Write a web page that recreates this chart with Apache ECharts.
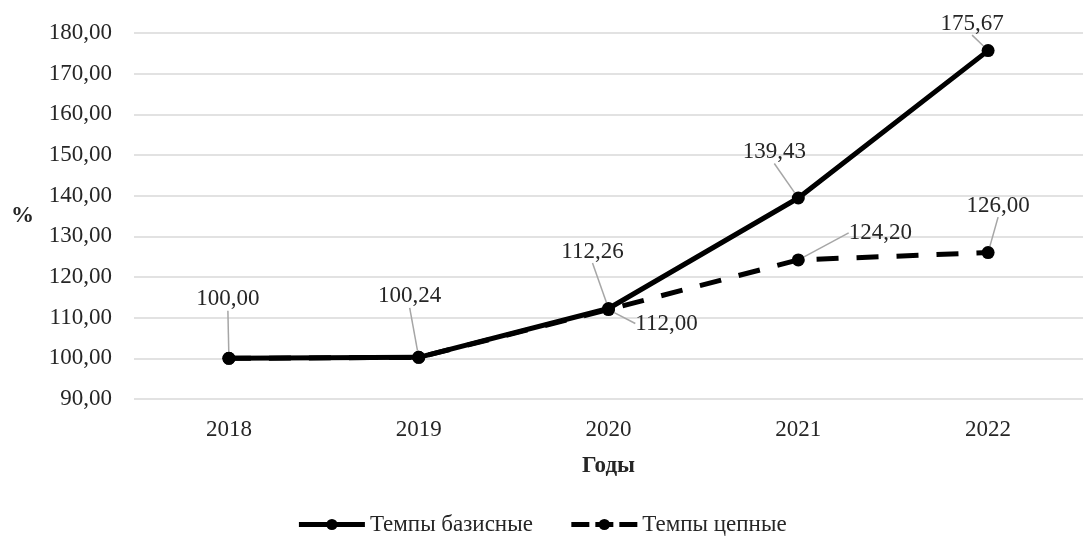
<!DOCTYPE html>
<html><head><meta charset="utf-8">
<script src="https://cdn.jsdelivr.net/npm/echarts@6/dist/echarts.min.js"></script>
<style>html,body{margin:0;padding:0;background:#fff}#c{width:1083px;height:536px}</style>
</head><body><div id="c"></div>
<script>
const years = ['2018','2019','2020','2021','2022'];
const baseRates = [100.00, 100.24, 112.26, 139.43, 175.67];
const chainRates = [100.00, 100.24, 112.00, 124.20, 126.00];
const seriesNames = ['Темпы базисные', 'Темпы цепные'];
const yTicks = {min: 90, max: 180, step: 10};

// label offsets (style only): [dx, dy] from the point
const labelOffsets = [
  [[-1,-59],[-9,-61],[-16,-57],[-24,-46],[-16,-27]],
  [[0,0],[0,0],[58,14],[82,-27],[10,-47]]
];
const FONT = 'Liberation Serif';
const FS = 23;
const fmt = v => v.toFixed(2).replace('.', ',');

const chart = echarts.init(document.getElementById('c'), null, {renderer:'canvas'});
const lineLabel = {show:true, fontFamily:FONT, fontSize:FS, color:'#262626', formatter: p => fmt(p.value)};
const guide = {show:true, lineStyle:{color:'#a6a6a6', width:1.5}};
function layoutFor(si){
  return function(params){
    const r = params.rect;
    const cx = r.x + r.width/2, cy = r.y + r.height/2;
    const o = labelOffsets[si][params.dataIndex];
    return {x: cx + o[0], y: cy + o[1], align:'center', verticalAlign:'middle'};
  };
}
chart.setOption({
  animation:false,
  textStyle:{fontFamily:FONT},
  grid:{left:134, right:0, top:33, bottom:137},
  legend:{
    top:508, left:'center', itemWidth:66, itemHeight:14, itemGap:36,
    textStyle:{fontFamily:FONT, fontSize:FS, color:'#262626'},
    data:[
      {name:seriesNames[0], lineStyle:{width:5}},
      {name:seriesNames[1], lineStyle:{type:[18,6], width:5}}
    ]
  },
  xAxis:{
    type:'category', data:years,
    axisLine:{show:false}, axisTick:{show:false},
    axisLabel:{fontFamily:FONT, fontSize:FS, color:'#262626', margin:19},
    name:'Годы', nameLocation:'middle', nameGap:56,
    nameTextStyle:{fontFamily:FONT, fontSize:FS, fontWeight:'bold', color:'#262626'}
  },
  yAxis:{
    type:'value', min:yTicks.min, max:yTicks.max, interval:yTicks.step,
    axisLine:{show:false}, axisTick:{show:false},
    splitLine:{lineStyle:{color:'#d9d9d9', width:1.5}},
    axisLabel:{fontFamily:FONT, fontSize:FS, color:'#262626', margin:22, formatter: v => fmt(v)},
    name:'%', nameLocation:'middle', nameRotate:0, nameGap:100,
    nameTextStyle:{fontFamily:FONT, fontSize:FS, fontWeight:'bold', color:'#262626'}
  },
  series:[
    {
      name:seriesNames[0], type:'line', data:baseRates,
      symbol:'circle', symbolSize:13,
      lineStyle:{color:'#000', width:5}, itemStyle:{color:'#000'},
      label:lineLabel, labelLine:guide, labelLayout:layoutFor(0), z:3
    },
    {
      name:seriesNames[1], type:'line',
      data:chainRates.map((v,i)=> i<2 ? {value:v, label:{show:false}, labelLine:{show:false}} : v),
      symbol:'circle', symbolSize:13,
      lineStyle:{color:'#000', width:5, type:[22,18]}, itemStyle:{color:'#000'},
      label:lineLabel, labelLine:guide, labelLayout:layoutFor(1), z:2
    }
  ]
});
</script></body></html>
